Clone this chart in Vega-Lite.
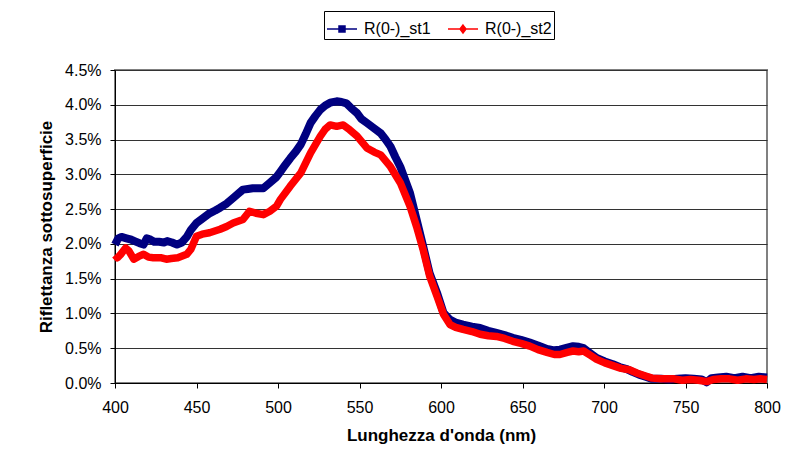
{
  "$schema": "https://vega.github.io/schema/vega-lite/v6.json",
  "width": 652,
  "height": 313,
  "autosize": {"type": "none"},
  "padding": {"left": 115, "top": 70, "right": 24, "bottom": 82},
  "background": "white",
  "config": {
    "font": "Liberation Sans",
    "view": {"stroke": "#808080", "strokeWidth": 2},
    "legend": {"symbolOpacity": 1, "symbolStrokeWidth": 1.5}
  },
  "datasets": {
    "st1": [
      {"nm":400,"v":1.99},{"nm":402,"v":2.08},{"nm":404,"v":2.10},{"nm":407,"v":2.08},{"nm":410,"v":2.06},{"nm":412,"v":2.04},{"nm":415,"v":2.01},{"nm":417.5,"v":1.99},{"nm":419.5,"v":2.08},{"nm":421,"v":2.07},{"nm":424,"v":2.03},{"nm":427,"v":2.03},{"nm":430,"v":2.02},{"nm":432,"v":2.04},{"nm":435,"v":2.02},{"nm":438,"v":1.99},{"nm":441,"v":2.02},{"nm":444,"v":2.10},{"nm":446.5,"v":2.20},{"nm":450,"v":2.30},{"nm":453.5,"v":2.36},{"nm":458,"v":2.44},{"nm":461.5,"v":2.48},{"nm":464.5,"v":2.52},{"nm":468.5,"v":2.58},{"nm":472.5,"v":2.66},{"nm":475.5,"v":2.72},{"nm":478.5,"v":2.78},{"nm":481.5,"v":2.79},{"nm":484.5,"v":2.80},{"nm":487.5,"v":2.80},{"nm":491,"v":2.80},{"nm":495,"v":2.88},{"nm":499,"v":2.96},{"nm":501.5,"v":3.04},{"nm":504,"v":3.12},{"nm":507.5,"v":3.23},{"nm":511,"v":3.33},{"nm":514,"v":3.43},{"nm":517,"v":3.58},{"nm":520,"v":3.74},{"nm":523,"v":3.84},{"nm":526,"v":3.93},{"nm":529,"v":3.99},{"nm":532,"v":4.03},{"nm":536,"v":4.05},{"nm":539,"v":4.04},{"nm":542,"v":4.02},{"nm":545,"v":3.95},{"nm":548.5,"v":3.88},{"nm":551,"v":3.80},{"nm":554.5,"v":3.74},{"nm":559,"v":3.66},{"nm":563,"v":3.59},{"nm":566,"v":3.50},{"nm":569,"v":3.40},{"nm":572,"v":3.25},{"nm":575,"v":3.11},{"nm":578,"v":2.92},{"nm":581,"v":2.73},{"nm":585,"v":2.35},{"nm":589,"v":1.97},{"nm":593,"v":1.58},{"nm":597.5,"v":1.30},{"nm":601.5,"v":1.01},{"nm":605.5,"v":0.91},{"nm":609,"v":0.87},{"nm":613.5,"v":0.84},{"nm":619,"v":0.81},{"nm":624,"v":0.79},{"nm":629,"v":0.75},{"nm":634,"v":0.72},{"nm":639,"v":0.69},{"nm":644,"v":0.65},{"nm":649,"v":0.62},{"nm":654.5,"v":0.58},{"nm":659.5,"v":0.54},{"nm":665,"v":0.49},{"nm":669.5,"v":0.47},{"nm":673,"v":0.48},{"nm":677.5,"v":0.51},{"nm":681,"v":0.53},{"nm":684.5,"v":0.52},{"nm":687.5,"v":0.50},{"nm":691.5,"v":0.43},{"nm":695.5,"v":0.36},{"nm":700.5,"v":0.31},{"nm":705.5,"v":0.27},{"nm":709.5,"v":0.23},{"nm":714,"v":0.20},{"nm":717.5,"v":0.16},{"nm":721.5,"v":0.12},{"nm":725.5,"v":0.09},{"nm":729.5,"v":0.06},{"nm":735,"v":0.06},{"nm":740,"v":0.05},{"nm":745,"v":0.06},{"nm":750,"v":0.07},{"nm":755,"v":0.06},{"nm":760,"v":0.05},{"nm":763,"v":0.01},{"nm":766,"v":0.07},{"nm":770,"v":0.08},{"nm":775,"v":0.09},{"nm":780,"v":0.07},{"nm":785,"v":0.09},{"nm":790,"v":0.07},{"nm":795,"v":0.09},{"nm":800,"v":0.08}
    ],
    "st2": [
      {"nm":400,"v":1.84},{"nm":401.5,"v":1.80},{"nm":403.5,"v":1.85},{"nm":406.5,"v":1.94},{"nm":408.5,"v":1.90},{"nm":411.5,"v":1.78},{"nm":414.5,"v":1.82},{"nm":417.5,"v":1.85},{"nm":420.5,"v":1.81},{"nm":423.5,"v":1.80},{"nm":428.5,"v":1.80},{"nm":431.5,"v":1.78},{"nm":434.5,"v":1.79},{"nm":438.5,"v":1.80},{"nm":444,"v":1.85},{"nm":446.5,"v":1.92},{"nm":450,"v":2.11},{"nm":453.5,"v":2.14},{"nm":458,"v":2.16},{"nm":464.5,"v":2.21},{"nm":468.5,"v":2.25},{"nm":472.5,"v":2.30},{"nm":478.5,"v":2.35},{"nm":482.5,"v":2.47},{"nm":486.5,"v":2.44},{"nm":491,"v":2.42},{"nm":495,"v":2.47},{"nm":499,"v":2.54},{"nm":501.5,"v":2.64},{"nm":507.5,"v":2.83},{"nm":514,"v":3.02},{"nm":520,"v":3.31},{"nm":526,"v":3.55},{"nm":529,"v":3.65},{"nm":532,"v":3.71},{"nm":536,"v":3.69},{"nm":540,"v":3.71},{"nm":544,"v":3.64},{"nm":548.5,"v":3.55},{"nm":554.5,"v":3.38},{"nm":559,"v":3.32},{"nm":563,"v":3.28},{"nm":569,"v":3.11},{"nm":575,"v":2.88},{"nm":581,"v":2.54},{"nm":585,"v":2.25},{"nm":589,"v":1.92},{"nm":593,"v":1.54},{"nm":597.5,"v":1.25},{"nm":601.5,"v":0.99},{"nm":605.5,"v":0.84},{"nm":609,"v":0.80},{"nm":613.5,"v":0.77},{"nm":619,"v":0.74},{"nm":624,"v":0.70},{"nm":629,"v":0.68},{"nm":634,"v":0.67},{"nm":639,"v":0.64},{"nm":644,"v":0.60},{"nm":649,"v":0.57},{"nm":654.5,"v":0.53},{"nm":659.5,"v":0.48},{"nm":665,"v":0.44},{"nm":669.5,"v":0.41},{"nm":673,"v":0.41},{"nm":677.5,"v":0.44},{"nm":681,"v":0.46},{"nm":684.5,"v":0.45},{"nm":687.5,"v":0.46},{"nm":691.5,"v":0.40},{"nm":695.5,"v":0.34},{"nm":700.5,"v":0.29},{"nm":705.5,"v":0.25},{"nm":710.5,"v":0.21},{"nm":715.5,"v":0.19},{"nm":720.5,"v":0.14},{"nm":725.5,"v":0.10},{"nm":729.5,"v":0.07},{"nm":735,"v":0.06},{"nm":743,"v":0.06},{"nm":748,"v":0.04},{"nm":753,"v":0.05},{"nm":758,"v":0.04},{"nm":763,"v":0.02},{"nm":767,"v":0.05},{"nm":772,"v":0.06},{"nm":777,"v":0.06},{"nm":782,"v":0.04},{"nm":787,"v":0.06},{"nm":792,"v":0.05},{"nm":796,"v":0.06},{"nm":800,"v":0.05}
    ]
  },
  "encoding": {
    "x": {"field": "nm", "type": "quantitative", "scale": {"domain": [400, 800], "nice": false, "zero": false},
      "axis": {"values": [400,450,500,550,600,650,700,750,800], "labelFlush": false, "grid": false, "domainColor": "black", "tickColor": "black", "tickSize": 5, "labelFontSize": 16, "labelColor": "black", "labelPadding": 11, "title": "Lunghezza d'onda (nm)", "titleFontSize": 17, "titleFontWeight": "bold", "titleColor": "black", "titlePadding": 12}},
    "y": {"field": "v", "type": "quantitative", "scale": {"domain": [0, 4.5], "nice": false},
      "axis": {"values": [0,0.5,1,1.5,2,2.5,3,3.5,4,4.5], "labelFlush": false, "labelExpr": "format(datum.value, '.1f') + '%'", "labelOverlap": false, "grid": true, "gridColor": "#333333", "gridWidth": 1, "domainColor": "black", "tickColor": "black", "tickSize": 5, "labelFontSize": 16, "labelColor": "black", "labelPadding": 9, "title": "Riflettanza sottosuperficie", "titleFontSize": 17, "titleFontWeight": "bold", "titleColor": "black", "titlePadding": 9}}
  },
  "layer": [
    {
      "data": {"name": "st1"},
      "mark": {"type": "line", "strokeWidth": 8, "strokeJoin": "round", "color": "#000080"}
    },
    {
      "data": {"name": "st2"},
      "mark": {"type": "line", "strokeWidth": 7.5, "strokeJoin": "round", "color": "#FF0000"}
    },
    {
      "data": {"values": [{"s": "R(0-)_st1", "nm": 400, "v": 0}, {"s": "R(0-)_st2", "nm": 400, "v": 0}]},
      "mark": {"type": "point", "filled": true, "opacity": 0, "strokeWidth": 1.5},
      "encoding": {
        "shape": {"field": "s", "type": "nominal",
          "scale": {"domain": ["R(0-)_st1", "R(0-)_st2"], "range": ["M-1,0H1M-0.2,-0.2H0.2V0.2H-0.2Z", "M-1,0H1M0,-0.26L0.2,0L0,0.26L-0.2,0Z"]},
          "legend": {"title": null, "orient": "none", "legendX": 209, "legendY": -59, "direction": "horizontal",
            "symbolSize": 900, "labelFontSize": 16, "labelColor": "black", "labelOffset": 6, "columnPadding": 14,
            "padding": 2, "strokeColor": "black", "fillColor": "white"}},
        "color": {"field": "s", "type": "nominal",
          "scale": {"domain": ["R(0-)_st1", "R(0-)_st2"], "range": ["#000080", "#FF0000"]},
          "legend": {"title": null, "orient": "none", "legendX": 209, "legendY": -59, "direction": "horizontal",
            "symbolSize": 900, "labelFontSize": 16, "labelColor": "black", "labelOffset": 6, "columnPadding": 14,
            "padding": 2, "strokeColor": "black", "fillColor": "white"}},
        "stroke": {"field": "s", "type": "nominal",
          "scale": {"domain": ["R(0-)_st1", "R(0-)_st2"], "range": ["#000080", "#FF0000"]},
          "legend": {"title": null, "orient": "none", "legendX": 209, "legendY": -59, "direction": "horizontal",
            "symbolSize": 900, "labelFontSize": 16, "labelColor": "black", "labelOffset": 6, "columnPadding": 14,
            "padding": 2, "strokeColor": "black", "fillColor": "white"}}
      }
    }
  ]
}
